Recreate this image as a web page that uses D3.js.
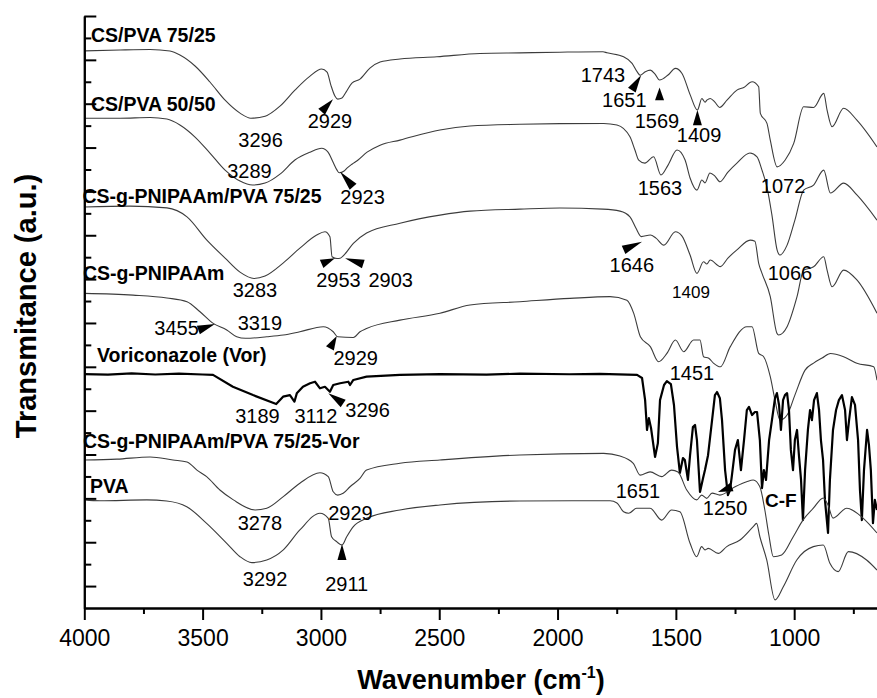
<!DOCTYPE html>
<html><head><meta charset="utf-8">
<script src="https://cdn.jsdelivr.net/npm/d3@7"></script>
<style>
body{margin:0;background:#fff;}
text{font-family:"Liberation Sans",Arial,Helvetica,sans-serif;fill:#000;}
</style></head><body>
<script>
// FTIR spectra, wavenumber (cm-1) vs transmittance (stacked, arbitrary units)
const majorTicks = [4000, 3500, 3000, 2500, 2000, 1500, 1000];
const minorTicks = [3750, 3250, 2750, 2250, 1750, 1250, 750];

const csPva7525 = [[4000,25.41],[3849,25.45],[3722,25.47],[3638,25.40],[3596,25.22],[3532,24.72],[3469,23.99],[3405,23.16],[3342,22.57],[3296,22.34],[3236,22.43],[3173,22.89],[3110,23.62],[3046,24.26],[2997,24.58],[2974,24.44],[2958,23.85],[2941,23.35],[2929,23.21],[2911,23.26],[2894,23.53],[2869,23.94],[2835,24.12],[2793,24.62],[2750,24.90],[2666,25.04],[2510,25.14],[2328,25.29],[2159,25.32],[1990,25.35],[1808,25.37],[1791,25.32],[1721,25.14],[1685,24.84],[1664,24.46],[1651,24.30],[1629,24.46],[1608,24.53],[1588,24.35],[1569,24.08],[1533,24.31],[1502,24.61],[1474,24.38],[1439,23.39],[1409,22.71],[1390,23.24],[1377,23.07],[1369,23.16],[1355,23.24],[1335,23.07],[1315,22.83],[1284,23.16],[1242,23.62],[1213,23.74],[1178,24.00],[1150,23.77],[1143,22.56],[1115,22.10],[1101,21.34],[1072,20.12],[1038,20.43],[1002,21.19],[960,22.86],[918,22.83],[875,23.47],[861,22.71],[840,21.95],[791,22.79],[735,22.25],[650,21.03]];

const csPva5050 = [[4000,22.34],[3849,22.34],[3722,22.37],[3651,22.30],[3596,22.03],[3532,21.48],[3469,20.75],[3405,19.97],[3342,19.47],[3289,19.29],[3236,19.38],[3173,19.79],[3110,20.43],[3046,20.79],[2997,20.97],[2970,20.79],[2949,20.34],[2932,19.97],[2923,19.85],[2902,19.93],[2890,20.06],[2869,20.24],[2843,20.43],[2805,20.79],[2750,21.11],[2666,21.34],[2497,21.80],[2370,21.98],[2159,22.06],[1990,22.09],[1805,22.10],[1749,22.03],[1694,21.49],[1673,20.89],[1657,20.43],[1631,20.29],[1594,20.58],[1563,19.75],[1533,20.20],[1495,20.89],[1461,20.43],[1440,19.61],[1411,19.06],[1390,19.52],[1377,19.39],[1356,19.84],[1335,19.70],[1314,19.44],[1280,19.88],[1242,20.29],[1187,20.75],[1157,20.58],[1136,19.97],[1115,19.20],[1094,17.92],[1072,16.32],[1060,16.10],[1030,16.55],[997,17.69],[960,19.06],[918,19.29],[875,19.97],[847,18.93],[791,19.38],[735,18.84],[650,17.69]];

const graftPva7525 = [[4000,18.29],[3807,18.33],[3651,18.25],[3566,17.84],[3482,16.78],[3405,15.96],[3342,15.32],[3283,15.03],[3236,15.14],[3160,15.73],[3089,16.41],[3018,17.01],[2983,17.16],[2962,16.93],[2953,16.02],[2932,15.94],[2919,15.95],[2903,16.09],[2863,16.63],[2807,17.10],[2666,17.55],[2497,17.92],[2370,18.10],[2159,18.19],[1990,18.24],[1808,18.19],[1736,18.10],[1694,17.84],[1669,17.33],[1646,16.94],[1608,17.01],[1584,16.87],[1551,16.55],[1502,17.16],[1474,16.96],[1440,16.10],[1411,15.26],[1383,15.79],[1369,15.69],[1355,15.87],[1312,15.57],[1280,15.96],[1242,16.33],[1186,16.78],[1166,16.73],[1150,15.72],[1136,15.26],[1101,14.20],[1073,12.53],[1066,12.45],[1030,12.83],[988,14.20],[960,15.41],[918,15.56],[875,16.02],[861,15.41],[840,14.65],[791,15.41],[735,14.96],[650,13.44]];

const graft = [[4000,14.35],[3794,14.27],[3651,14.14],[3566,13.97],[3511,13.51],[3455,12.98],[3398,12.68],[3356,12.37],[3319,12.30],[3229,12.37],[3159,12.45],[3089,12.60],[2990,12.83],[2948,12.60],[2929,12.37],[2863,12.34],[2835,12.60],[2807,12.75],[2666,13.13],[2497,13.44],[2370,13.82],[2159,13.97],[1947,14.12],[1778,14.20],[1707,14.04],[1678,13.44],[1650,12.37],[1608,11.92],[1573,11.23],[1538,11.61],[1502,12.22],[1467,11.69],[1425,12.22],[1398,12.22],[1383,11.46],[1361,11.39],[1340,11.16],[1312,11.00],[1270,11.92],[1200,12.83],[1178,12.83],[1150,11.61],[1129,11.46],[1101,10.55],[1081,9.48],[1060,8.57],[1030,8.80],[997,9.71],[954,10.85],[918,11.17],[882,11.40],[847,11.61],[791,11.46],[735,11.16],[664,11.00],[650,10.39]];

const voriconazole = [[4000,10.67],[3900,10.64],[3800,10.70],[3700,10.65],[3600,10.69],[3500,10.65],[3456,10.63],[3372,10.09],[3287,9.71],[3189,9.30],[3160,9.64],[3131,9.71],[3112,9.41],[3102,9.79],[3076,10.09],[3046,10.25],[3025,10.32],[3004,10.02],[2983,10.09],[2962,9.86],[2948,10.17],[2919,10.25],[2884,10.32],[2877,10.17],[2863,10.40],[2807,10.55],[2666,10.63],[2497,10.67],[2300,10.64],[2159,10.69],[1950,10.66],[1821,10.68],[1664,10.63],[1643,10.49],[1630,9.48],[1622,8.12],[1614,8.66],[1605,8.21],[1588,6.89],[1576,7.52],[1567,9.48],[1550,10.17],[1538,10.35],[1521,10.21],[1508,9.26],[1495,7.34],[1483,6.16],[1470,6.84],[1462,6.75],[1449,5.84],[1440,6.97],[1428,8.25],[1419,8.35],[1411,7.66],[1398,5.29],[1385,5.93],[1377,6.29],[1364,6.97],[1347,8.57],[1335,9.71],[1326,9.85],[1314,9.57],[1305,8.57],[1292,6.29],[1280,5.15],[1271,5.38],[1263,6.06],[1250,7.21],[1238,7.66],[1225,6.29],[1212,7.66],[1200,9.03],[1191,9.17],[1178,8.80],[1166,8.94],[1157,8.94],[1145,7.66],[1136,5.47],[1128,6.29],[1119,5.84],[1106,7.66],[1094,8.57],[1081,9.57],[1073,9.80],[1064,9.26],[1056,8.12],[1047,9.48],[1039,9.71],[1030,9.80],[1022,9.03],[1014,7.21],[1005,6.29],[997,7.66],[988,8.12],[980,6.97],[971,5.84],[963,4.01],[954,6.29],[942,8.12],[933,9.03],[925,8.57],[916,9.48],[904,9.80],[895,9.03],[887,7.66],[878,6.75],[870,4.93],[857,3.42],[849,5.84],[836,8.12],[823,9.03],[811,9.48],[798,9.71],[785,9.03],[777,7.66],[768,8.57],[756,9.62],[743,9.26],[730,7.66],[722,5.38],[714,4.01],[705,6.29],[692,8.12],[684,7.43],[676,6.29],[667,3.87],[659,4.93],[650,4.47]];

const graftPvaVor = [[4000,6.75],[3862,6.79],[3722,6.89],[3625,6.75],[3566,6.66],[3524,6.29],[3483,5.99],[3427,5.38],[3370,4.93],[3278,4.47],[3229,4.55],[3159,5.08],[3089,5.69],[3004,6.17],[2969,5.99],[2948,5.30],[2929,5.15],[2906,5.23],[2877,5.53],[2835,5.91],[2807,6.29],[2666,6.60],[2497,6.75],[2159,6.98],[1805,7.05],[1736,6.93],[1680,6.60],[1651,6.06],[1609,6.21],[1560,5.99],[1518,6.29],[1491,6.20],[1454,5.38],[1412,4.93],[1391,5.15],[1370,5.00],[1347,5.24],[1314,5.15],[1250,5.53],[1201,5.76],[1173,5.84],[1145,5.53],[1124,4.47],[1107,3.33],[1088,2.34],[1053,2.42],[1004,3.25],[963,4.01],[919,4.55],[877,5.02],[857,4.70],[836,4.10],[778,4.55],[708,4.09],[650,3.42]];

const pva = [[4000,4.93],[3934,4.89],[3736,4.93],[3652,4.88],[3567,4.62],[3483,3.86],[3398,2.95],[3342,2.34],[3292,2.07],[3229,2.19],[3159,2.65],[3089,3.56],[3004,4.32],[2969,4.09],[2955,3.25],[2933,3.02],[2911,2.87],[2891,3.25],[2863,3.71],[2807,4.09],[2666,4.47],[2497,4.70],[2159,4.88],[1778,4.89],[1749,4.79],[1721,4.39],[1699,4.32],[1666,4.55],[1609,4.55],[1560,4.01],[1518,4.47],[1483,4.39],[1440,2.95],[1412,2.34],[1391,2.80],[1377,2.65],[1363,2.72],[1321,2.49],[1285,2.80],[1229,3.10],[1173,3.71],[1159,3.86],[1145,3.25],[1116,2.19],[1081,0.37],[1046,0.97],[989,2.19],[919,2.80],[877,2.87],[849,2.04],[814,1.66],[771,2.57],[694,2.19],[650,1.73]];

const seriesNames = ["CS/PVA 75/25", "CS/PVA 50/50", "CS-g-PNIPAAm/PVA 75/25", "CS-g-PNIPAAm", "Voriconazole (Vor)", "CS-g-PNIPAAm/PVA 75/25-Vor", "PVA"];
const seriesData = [csPva7525, csPva5050, graftPva7525, graft, voriconazole, graftPvaVor, pva];

// label layout: [wavenumber at left edge, a.u. at baseline]
const nameAnchors = [[3972,25.82],[3972,22.69],[4008,18.47],[4006,14.96],[3946,11.23],[4006,7.30],[3976,5.24]];

// band labels: [text, wavenumber (centre), a.u. (baseline), size]
const bandLabels = [
  ["3296",3255,21.04],["2929",2962,21.87],["3289",3302,19.59],["2923",2824,18.42],
  ["1743",1808,24.00],["1651",1718,22.86],["1569",1580,21.87],["1409",1402,21.26],
  ["1563",1567,18.83],["1072",1047,18.91],
  ["2953",2926,14.65],["2903",2705,14.65],["3283",3279,14.20],
  ["1646",1686,15.34],["1409",1436,14.12,17],["1066",1018,14.96],
  ["3455",3610,12.45],["3319",3258,12.68],["2929",2853,11.08],["1451",1432,10.40],
  ["3189",3268,8.42],["3112",3021,8.42],["3296",2803,8.72],
  ["3278",3258,3.56],["2929",2875,4.01],["3292",3236,1.00],["2911",2891,0.79],
  ["1651",1660,5.02],["1250",1292,4.24]
];

// arrowheads: [tip wavenumber, tip a.u., tail wavenumber, tail a.u.]
const arrows = [
  [2949,23.20,2997,22.63],[2919,19.90,2864,19.21],[1647,24.30,1686,23.62],
  [1569,23.74,1569,23.16],[1409,22.71,1409,22.02],[2941,15.95,2997,15.69],
  [2898,15.95,2821,15.69],[3448,12.95,3518,12.68],[2933,12.40,2962,11.84],
  [2969,9.79,2906,9.33],[1643,16.70,1721,16.33],[2911,2.92,2911,2.19],
  [1322,5.29,1263,5.52]
];

const W = 877, H = 698;
const svg = d3.select("body").append("svg").attr("width", W).attr("height", H);

const x = d3.scaleLinear().domain([4000, 650]).range([84.3, 877]);
const y = d3.scaleLinear().domain([0, 27]).range([608, 16]);

const line = d3.line().x(d => x(d[0])).y(d => y(d[1]));
const smooth = d3.line().x(d => x(d[0])).y(d => y(d[1])).curve(d3.curveMonotoneX);

// spectra
svg.append("g").selectAll("path").data(seriesData).join("path")
  .attr("fill", "none")
  .attr("stroke", (d, i) => i === 4 ? "#000" : "#3c3c3c")
  .attr("stroke-width", (d, i) => i === 4 ? 2.2 : 1.1)
  .attr("stroke-linejoin", "round")
  .attr("d", (d, i) => i === 4 ? line(d) : smooth(d));

// axes
const xAxis = svg.append("g").attr("transform", `translate(0,${y(0)})`)
  .call(d3.axisBottom(x).tickValues(majorTicks).tickSize(12).tickSizeOuter(0).tickFormat(d3.format("d")));
svg.append("g").attr("transform", `translate(0,${y(0)})`)
  .call(d3.axisBottom(x).tickValues(minorTicks).tickSize(6).tickSizeOuter(0).tickFormat(""));
xAxis.selectAll("text").attr("font-size", 23).attr("dy", "0.95em").attr("y", 16);

const yMajor = d3.range(1, 28, 2), yMinor = d3.range(2, 27, 2);
svg.append("g").attr("transform", `translate(${x(4000)},0)`)
  .call(d3.axisLeft(y).tickValues(yMajor).tickSize(-12).tickSizeOuter(0).tickFormat(""));
svg.append("g").attr("transform", `translate(${x(4000)},0)`)
  .call(d3.axisLeft(y).tickValues(yMinor).tickSize(-7).tickSizeOuter(0).tickFormat(""));
svg.selectAll(".domain, .tick line").attr("stroke", "#000").attr("stroke-width", 2);
svg.selectAll(".tick text").attr("fill", "#000").attr("font-family", '"Liberation Sans",Arial,sans-serif');

// axis titles
const xt = svg.append("text").attr("x", 481).attr("y", 689).attr("text-anchor", "middle")
  .attr("font-size", 27).attr("font-weight", "bold");
xt.append("tspan").text("Wavenumber (cm");
xt.append("tspan").attr("font-size", 16).attr("dy", -11).text("-1");
xt.append("tspan").attr("dy", 11).text(")");

svg.append("text").attr("transform", "translate(36,306) rotate(-90)")
  .attr("text-anchor", "middle").attr("font-size", 29).attr("font-weight", "bold")
  .text("Transmitance (a.u.)");

// series names
svg.append("g").selectAll("text").data(seriesNames).join("text")
  .attr("x", (d, i) => x(nameAnchors[i][0]))
  .attr("y", (d, i) => y(nameAnchors[i][1]))
  .attr("font-size", 19.5).attr("font-weight", "bold")
  .text(d => d);

// band assignments
svg.append("g").selectAll("text").data(bandLabels).join("text")
  .attr("x", d => x(d[1])).attr("y", d => y(d[2]))
  .attr("text-anchor", "middle").attr("font-size", d => d[3] || 20)
  .text(d => d[0]);

svg.append("text").attr("x", x(1123)).attr("y", y(4.61))
  .attr("font-size", 19).attr("font-weight", "bold").text("C-F");

// arrowheads
svg.append("g").selectAll("path").data(arrows).join("path")
  .attr("fill", "#000")
  .attr("d", a => {
    const tx = x(a[0]), ty = y(a[1]), bx = x(a[2]), by = y(a[3]);
    const dx = tx - bx, dy = ty - by, L = Math.hypot(dx, dy) || 1;
    const px = -dy / L * 4.5, py = dx / L * 4.5;
    return `M${tx},${ty}L${bx + px},${by + py}L${bx - px},${by - py}Z`;
  });
</script>
</body></html>
